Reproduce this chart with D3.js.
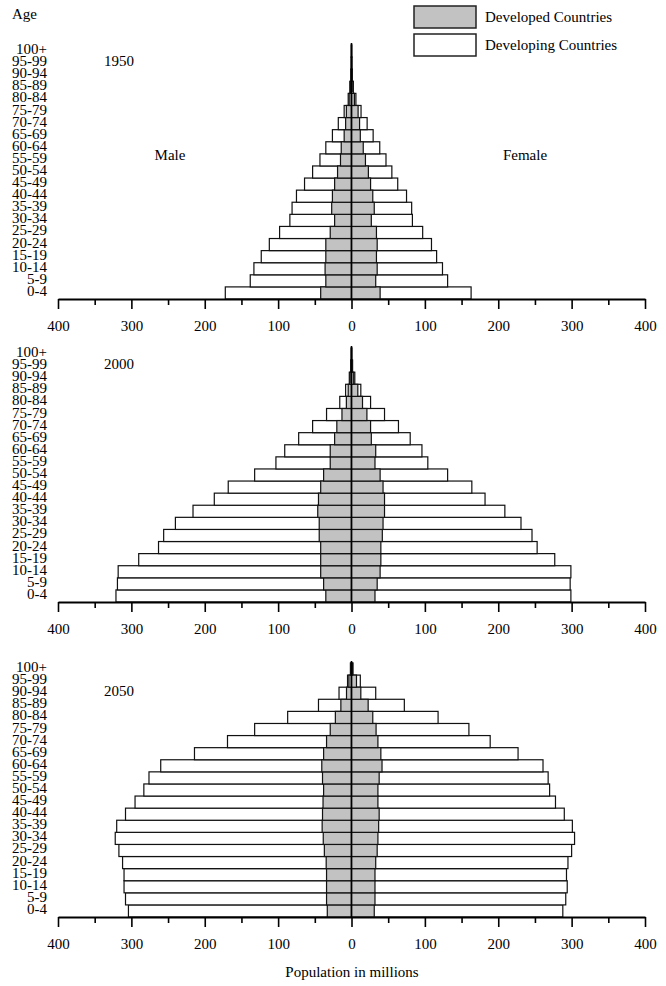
<!DOCTYPE html>
<html>
<head>
<meta charset="utf-8">
<script src="https://cdn.jsdelivr.net/npm/d3@7"></script>
<style>
  body { margin: 0; background: #fff; }
  svg text { font-family: "Liberation Serif", "Times New Roman", serif; fill: #000; }
</style>
</head>
<body>
<script>
  // age groups, bottom to top
  var ages = ["0-4", "5-9", "10-14", "15-19", "20-24", "25-29", "30-34", "35-39", "40-44", "45-49",
    "50-54", "55-59", "60-64", "65-69", "70-74", "75-79", "80-84", "85-89", "90-94", "95-99", "100+"];
  var years = ["1950", "2000", "2050"];
  var ticks = [-400, -300, -200, -100, 0, 100, 200, 300, 400];
  var minorTicks = [-350, -250, -150, -50, 50, 150, 250, 350];

  // outer edge of the white bar (all countries) and the grey part (developed), millions
  var total1950M = [172, 138, 133, 123, 112, 98, 84, 81, 75, 64, 53, 43, 35, 26, 18, 10, 4.5, 2.3, 0.8, 0.3, 0.1];
  var dev1950M = [42, 35, 36, 35, 35, 29, 23, 27, 26, 23, 19, 15, 14, 10, 8, 7, 3.2, 1.5, 0.6, 0.2, 0.1];
  var total1950F = [163, 131, 124, 116, 109, 97, 83, 82, 75, 63, 55, 47, 38.5, 29.5, 21.3, 13, 6, 2.5, 1, 0.4, 0.1];
  var dev1950F = [39, 33, 35, 34, 35, 34, 27, 31, 29, 26, 23, 19, 16, 12, 11, 9, 4, 1.8, 0.7, 0.3, 0.1];

  var total2000M = [321, 319, 318, 290, 263, 256, 240, 216, 187, 168, 132, 103, 91, 72, 53, 34, 16, 8, 3, 1, 0.3];
  var dev2000M = [35, 38, 42, 42, 42, 44, 44, 46, 45, 42, 38, 29, 29, 23, 20, 13, 7, 4.5, 2, 0.7, 0.2];
  var total2000F = [299, 298, 299, 277, 253, 246, 231, 209, 182, 164, 131, 104, 96, 80, 64, 45, 26, 12.7, 4.5, 1.5, 0.3];
  var dev2000F = [32, 35, 39, 40, 40, 42, 43, 45, 45, 43, 39, 32, 33, 27, 26, 21, 15, 8.6, 3, 1, 0.2];

  var total2050M = [304, 308, 310, 310, 312, 317, 322, 320, 308, 295, 283, 276, 260, 214, 169, 132, 87, 45, 17, 5.4, 1.5];
  var dev2050M = [33, 34, 34, 34, 34.5, 37, 38.5, 40, 39.5, 38.8, 38, 39.5, 40.5, 38, 34, 29, 22, 14.5, 6.8, 3.6, 1];
  var total2050F = [288, 292, 294, 293, 295, 300, 304, 301, 290, 278, 270, 268, 261, 227, 189, 160, 118, 72, 33, 12, 2];
  var dev2050F = [31, 32, 32, 32, 33, 35, 36, 37, 37.7, 36, 36, 37.7, 41.6, 40, 36, 33.5, 29, 22.7, 12.7, 6.8, 1.5];

  var panels = [
    { year: years[0], tm: total1950M, dm: dev1950M, tf: total1950F, df: dev1950F, axisY: 299, yearRow: "95-99" },
    { year: years[1], tm: total2000M, dm: dev2000M, tf: total2000F, df: dev2000F, axisY: 602, yearRow: "95-99" },
    { year: years[2], tm: total2050M, dm: dev2050M, tf: total2050F, df: dev2050F, axisY: 917, yearRow: "90-94" }
  ];

  var width = 666, height = 986;
  var pyramidHeight = 254;
  var grey = "#c2c2c2";

  var svg = d3.select("body").append("svg")
    .attr("width", width)
    .attr("height", height);

  var x = d3.scaleLinear().domain([-400, 400]).range([58, 645]);

  panels.forEach(function(p) {
    var y = d3.scaleBand().domain(ages).range([p.axisY, p.axisY - pyramidHeight]).padding(0);
    var g = svg.append("g");

    function bars(vals, side, fill) {
      g.selectAll(null)
        .data(vals)
        .enter()
        .append("rect")
        .attr("x", function(d) { return side < 0 ? x(-d) : x(0); })
        .attr("y", function(d, i) { return y(ages[i]); })
        .attr("width", function(d) { return side < 0 ? x(0) - x(-d) : x(d) - x(0); })
        .attr("height", y.bandwidth())
        .attr("fill", fill)
        .attr("stroke", "#111")
        .attr("stroke-width", 1.2);
    }

    bars(p.tm, -1, "#fff");
    bars(p.tf, 1, "#fff");
    bars(p.dm, -1, grey);
    bars(p.df, 1, grey);

    // centre line
    g.append("line")
      .attr("x1", x(0)).attr("x2", x(0))
      .attr("y1", p.axisY).attr("y2", p.axisY - pyramidHeight - 2)
      .attr("stroke", "#000")
      .attr("stroke-width", 1.6);

    // age labels
    g.selectAll(null)
      .data(ages)
      .enter()
      .append("text")
      .attr("x", 47)
      .attr("y", function(d) { return y(d) + y.bandwidth() / 2 + 3; })
      .attr("text-anchor", "end")
      .style("font-size", "15px")
      .text(function(d) { return d; });

    g.append("text")
      .attr("x", 104)
      .attr("y", y(p.yearRow) + y.bandwidth() / 2 + 3)
      .style("font-size", "15px")
      .text(p.year);

    // axes
    var major = g.append("g")
      .attr("transform", "translate(0," + p.axisY + ")")
      .call(d3.axisBottom(x).tickValues(ticks).tickFormat(function(d) { return Math.abs(d); })
        .tickSize(10).tickSizeOuter(0).tickPadding(11));
    major.select(".domain").attr("stroke", "#000").attr("stroke-width", 2);
    major.selectAll(".tick line").attr("stroke", "#000").attr("stroke-width", 1.6);
    major.selectAll(".tick text")
      .style("font-family", "'Liberation Serif', 'Times New Roman', serif")
      .style("font-size", "15px")
      .attr("fill", "#000");

    var minor = g.append("g")
      .attr("transform", "translate(0," + p.axisY + ")")
      .call(d3.axisBottom(x).tickValues(minorTicks).tickFormat("").tickSize(6).tickSizeOuter(0));
    minor.select(".domain").remove();
    minor.selectAll(".tick line").attr("stroke", "#000").attr("stroke-width", 1.6);
  });

  // titles
  svg.append("text").attr("x", 12).attr("y", 19).style("font-size", "15px").text("Age");
  svg.append("text").attr("x", 170).attr("y", 160).attr("text-anchor", "middle").style("font-size", "15px").text("Male");
  svg.append("text").attr("x", 525).attr("y", 160).attr("text-anchor", "middle").style("font-size", "15px").text("Female");
  svg.append("text").attr("x", 352).attr("y", 977).attr("text-anchor", "middle").style("font-size", "15px").text("Population in millions");

  // legend
  var legend = [{ label: "Developed Countries", fill: grey }, { label: "Developing Countries", fill: "#fff" }];
  var lg = svg.selectAll(".legend")
    .data(legend)
    .enter()
    .append("g")
    .attr("transform", function(d, i) { return "translate(414," + (6 + i * 28) + ")"; });
  lg.append("rect")
    .attr("width", 62).attr("height", 22)
    .attr("fill", function(d) { return d.fill; })
    .attr("stroke", "#222").attr("stroke-width", 1.5);
  lg.append("text")
    .attr("x", 71).attr("y", 16)
    .style("font-size", "15px")
    .text(function(d) { return d.label; });
</script>
</body>
</html>
